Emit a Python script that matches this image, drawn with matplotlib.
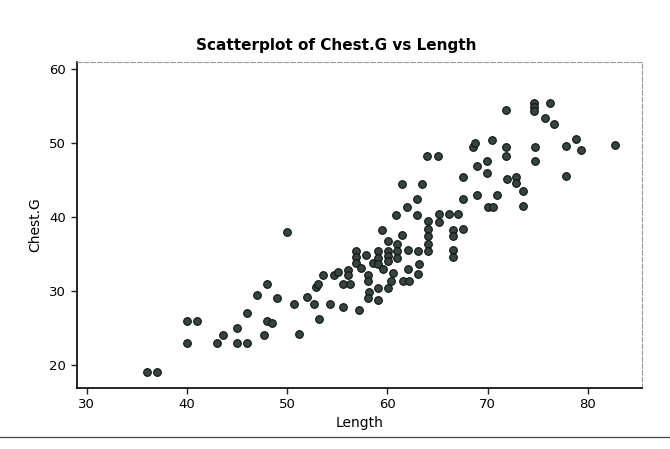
import numpy as np
import matplotlib.pyplot as plt
from matplotlib.lines import Line2D

length = [36, 37, 40, 41, 40, 43, 43.6, 45, 45, 46, 46,
          47, 48, 49, 48, 48.5, 47.7, 50,
          50.7, 51.2, 52, 52.7, 52.9, 53.1, 53.2, 53.6, 54.3, 54.7, 55.1, 55.6, 55.6,
          56.1, 56.1, 56.3, 56.9, 56.9, 56.9, 57.2, 57.4, 57.9,
          58.1, 58.1, 58.2, 58.1, 58.6,
          59.1, 59.1, 59.1, 59.1, 59.1, 59.5, 59.6,
          60.1, 60.1, 60.1, 60.1, 60.1, 60.4, 60.6,
          60.9, 61.0, 61.0, 61.0, 61.5, 61.5, 61.6,
          62.0, 62.1, 62.1, 62.2,
          63.0, 63.0, 63.1, 63.1, 63.2, 63.5,
          63.9, 64.0, 64.0, 64.0, 64.0, 64.0,
          65.0, 65.1, 65.1, 66.1, 66.5, 66.5, 66.5, 66.5, 67.0, 67.5,
          67.5, 67.5, 68.5, 68.7, 68.9, 68.9,
          69.9, 69.9, 70.0, 70.5, 70.4, 70.9,
          71.8, 71.8, 71.8, 71.9, 72.8, 72.8, 73.5, 73.5,
          74.6, 74.6, 74.6, 74.7, 74.7, 75.7, 76.2, 76.6,
          77.8, 77.8, 78.8, 79.3, 82.7]
chest = [19, 19, 26, 26, 23, 23, 24, 25, 23, 23, 27,
         29.5, 31, 29, 26, 25.7, 24, 38,
         28.3, 24.2, 29.2, 28.3, 30.5, 31, 26.2, 32.2, 28.3, 32.2, 32.5, 27.8, 30.9,
         32.9, 32.2, 30.9, 35.4, 34.6, 33.8, 27.4, 33.1, 34.8,
         32.2, 31.3, 29.9, 29.1, 33.8,
         35.4, 34.4, 33.6, 30.4, 28.8, 38.3, 33.0,
         36.8, 35.4, 34.7, 34.0, 30.4, 31.3, 32.4,
         40.3, 36.4, 35.4, 34.5, 37.5, 44.4, 31.4,
         41.3, 35.5, 33.0, 31.4,
         42.4, 40.3, 35.4, 32.3, 33.6, 44.4,
         48.2, 39.4, 38.4, 37.4, 36.4, 35.4,
         48.2, 40.4, 39.3, 40.4, 38.3, 37.4, 35.6, 34.6, 40.4, 38.4,
         45.4, 42.4, 49.5, 50.0, 46.9, 43.0,
         47.5, 45.9, 41.4, 41.4, 50.4, 43.0,
         54.4, 49.5, 48.3, 45.1, 45.4, 44.6, 43.5, 41.5,
         55.4, 54.8, 54.3, 49.5, 47.5, 53.4, 55.4, 52.5,
         49.6, 45.5, 50.5, 49.0, 49.7]

x_ticks = [30, 40, 50, 60, 70, 80]
y_ticks = [20, 30, 40, 50, 60]

fig = plt.figure(figsize=(6.7, 4.49), dpi=100)
ax = fig.add_axes([0.1145, 0.136, 0.8437, 0.726])

ax.plot(length, chest, 'o', markersize=5.5, markerfacecolor='#34453f',
        markeredgecolor='#111111', markeredgewidth=0.8, linestyle='none')

ax.set_xlim(29.0, 85.4)
ax.set_ylim(16.9, 60.95)
ax.set_xticks(x_ticks)
ax.set_yticks(y_ticks)
ax.tick_params(direction='out', length=4, width=1, labelsize=9.5, color='#222222')

ax.spines['left'].set_linewidth(1.2)
ax.spines['bottom'].set_linewidth(1.2)
for side in ['top', 'right']:
    ax.spines[side].set_color('#999999')
    ax.spines[side].set_linewidth(0.8)
    ax.spines[side].set_linestyle((0, (4, 2)))

fig.text(0.5025, 1 - 45.7 / 449, "Scatterplot of Chest.G vs Length",
         fontsize=11, fontweight='bold', ha='center', va='center')
ax.set_xlabel("Length", fontsize=10, labelpad=3)
ax.set_ylabel("Chest.G", fontsize=10, labelpad=5)

# scan edge line along the bottom of the page
fig.add_artist(Line2D([0, 1], [1 - 437 / 449] * 2, color='#444444', linewidth=0.9,
                      transform=fig.transFigure))

plt.savefig("out.png", dpi=100)
